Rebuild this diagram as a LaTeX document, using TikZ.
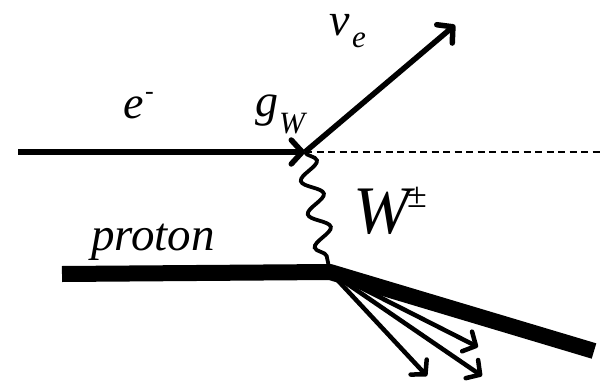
\documentclass[tikz,border=0pt]{standalone}
\usepackage{fontspec}
\setmainfont{Liberation Serif}
\usetikzlibrary{arrows.meta,decorations.pathmorphing}
\tikzset{
  lbl/.style={inner sep=0pt, outer sep=0pt, anchor=base west, font=\itshape},
  fermion/.style={line width=5.5pt, -{Straight Barb[length=11pt,width=24pt,line width=5.5pt,round]}},
  jet/.style={line width=4.5pt, -{Straight Barb[length=10pt,width=22pt,line width=4.5pt,round]}},
  thick proton/.style={line width=16pt},
  boson/.style={line width=3.8pt, decorate, decoration={snake, segment length=34pt, amplitude=10pt}},
  scalarline/.style={line width=2pt, dash pattern=on 7pt off 4.5pt}
}
\begin{document}
\begin{tikzpicture}[x=1pt,y=-1pt]
\useasboundingbox (0,0) rectangle (602,380);
\coordinate (ein) at (18,152);
\coordinate (v1) at (305,152);
\coordinate (dend) at (602,152);
\coordinate (nu) at (455,25);
\coordinate (pin) at (62,274);
\coordinate (v2) at (330,272);
\coordinate (pout) at (594,351);
\coordinate (j1) at (427,376);
\coordinate (j2) at (482,376);
\coordinate (j3) at (478,347);
% jets
\draw[jet] (v2) -- (j1);
\draw[jet] (v2) -- (j2);
\draw[jet] (v2) -- (j3);
% proton
\draw[thick proton, line join=round] (pin) -- (v2) -- (pout);
% boson
\draw[boson] (v1) -- (v2);
% dashed continuation
\draw[scalarline] (v1) -- (dend);
% electron and neutrino
\draw[fermion] (ein) -- (v1);
\draw[fermion] (v1) -- (nu);
% labels
\node[lbl, font=\itshape\fontsize{46}{46}\selectfont] (elab) at (123,118) {e};
\node[lbl, font=\fontsize{26}{26}\selectfont] (eminus) at (145,99) {-};
\node[lbl, font=\itshape\fontsize{46}{46}\selectfont] (glab) at (255,116) {g};
\node[lbl, font=\itshape\fontsize{31}{31}\selectfont] (gsub) at (279,133) {W};
\node[lbl, text height=20pt, font=\itshape\fontsize{46}{46}\selectfont] (nulab) at (329,35) {ν};
\node[lbl, font=\itshape\fontsize{31}{31}\selectfont] (nusub) at (352,47) {e};
\node[lbl, font=\itshape\fontsize{68}{68}\selectfont] (wlab) at (353,233) {W};
\node[lbl, font=\fontsize{36}{36}\selectfont] (wpm) at (407,207) {±};
\node[lbl, font=\itshape\fontsize{47}{47}\selectfont] (plab) at (91,250) {proton};
\end{tikzpicture}
\end{document}
